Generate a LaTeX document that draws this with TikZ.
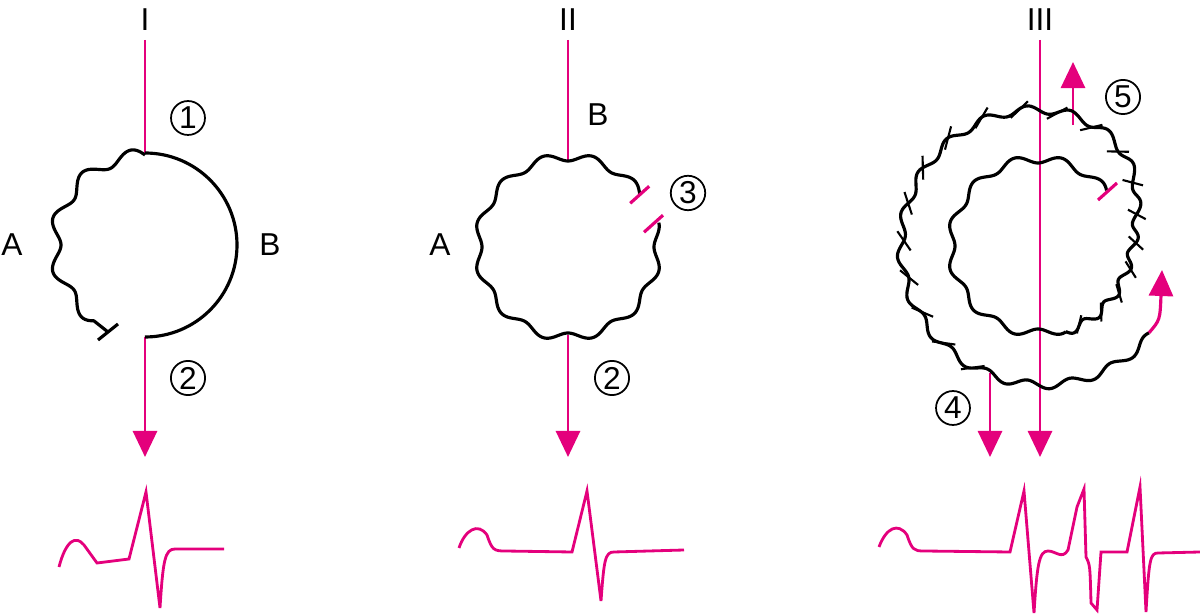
\documentclass[tikz,border=0pt]{standalone}
\usepackage{fontspec}
\setmainfont{Liberation Sans}
\usetikzlibrary{arrows.meta}
\definecolor{magenta}{RGB}{228,0,124}
\newcommand\spr[1]{(90+47/(1+exp(-((#1)-30)/14))+max(0,(#1)-250)*0.09)}
\begin{document}
\begin{tikzpicture}[
    x=0.01cm,y=-0.01cm,
    font=\fontsize{9}{10}\selectfont,
    fibre/.style={draw=black,line width=0.9pt,line join=round},
    beat/.style={draw=magenta,line width=0.8pt},
    impulse/.style={draw=magenta,line width=0.8pt,-{Triangle[width=0.24cm,length=0.26cm]}},
    block/.style={draw=magenta,line width=0.9pt},
    num/.style={circle,draw,line width=0.5pt,inner sep=0.6pt,minimum size=0.3cm},
  ]
  \useasboundingbox (0,0) rectangle (1200,616);
  % panel I
  \node (t1) at (145,20) {I};
  \coordinate (in1) at (145,40);
  \coordinate (top1) at (145,153);
  \coordinate (bot1) at (145,337);
  \coordinate (out1) at (145,457);
  \draw[beat] (in1) -- (top1);
  \draw[impulse] (bot1) -- (out1);
  \begin{scope}[shift={(145,245)}]
    \draw[fibre] (90:92) arc[start angle=90,end angle=-90,radius=92];
    \draw[fibre] plot[domain=90:236,samples=120,smooth]
      ({(90+6*sin(11*(\x-90)))*cos(\x)},{-(90+6*sin(11*(\x-90)))*sin(\x)})
      -- (-37,87) coordinate (end1);
    \draw[fibre] (end1) ++(-10,8) -- ++(20,-16);
  \end{scope}
  \node (a1) at (12,245) {A};
  \node (b1) at (270,245) {B};
  \node[num] (n1) at (188,118) {1};
  \node[num] (n2) at (188,378) {2};
  \draw[beat] (59,567) .. controls (66,540) and (76,535) .. (84,545) -- (97,563)
    -- (129,559) -- (146,492) -- (160,608) .. controls (163,560) and (165,549) .. (175,549) -- (224,549);
  % panel II
  \node (t2) at (568,20) {II};
  \coordinate (in2) at (568,40);
  \coordinate (top2) at (568,160);
  \coordinate (bot2) at (568,335);
  \coordinate (out2) at (568,457);
  \draw[beat] (in2) -- (top2);
  \draw[impulse] (bot2) -- (out2);
  \begin{scope}[shift={(568,247)}]
    \draw[fibre] plot[domain=36:375,samples=300,smooth]
      ({(90-4*cos(12*(\x-90)))*cos(\x)},{-(90-4*cos(12*(\x-90)))*sin(\x)});
    \coordinate (g1) at ({88*cos(36)},{-88*sin(36)});
    \coordinate (g2) at ({88*cos(15)},{-88*sin(15)});
  \end{scope}
  \draw[block] (g1) ++(-9,8) -- ++(19,-17);
  \draw[block] (g2) ++(-9,8) -- ++(19,-17);
  \node (a2) at (440,245) {A};
  \node (b2) at (598,115) {B};
  \node[num] (n3) at (688,193) {3};
  \node[num] (n4) at (612,378) {2};
  \draw[beat] (459,548) .. controls (465,530) and (478,522) .. (487,535) .. controls (492,550) and (494,551) .. (505,551)
    -- (572,552) -- (587,491) -- (601,601) .. controls (604,560) and (605,552) .. (614,552) -- (684,550);
  % panel III
  \node (t3) at (1040,20) {III};
  \coordinate (in3) at (1040,40);
  \coordinate (out3) at (1040,457);
  \coordinate (side3) at (990,373);
  \coordinate (sout3) at (990,457);
  \coordinate (exit3) at (1073,125);
  \coordinate (exto3) at (1073,62);
  \draw[impulse] (in3) -- (out3);
  \draw[impulse] (side3) -- (sout3);
  \draw[impulse] (exit3) -- (exto3);
  \begin{scope}[shift={(1038,246)}]
    \draw[fibre] plot[domain=39:288,samples=220,smooth]
      ({(87-4*cos(12*(\x-90)))*cos(\x)},{-(87-4*cos(12*(\x-90)))*sin(\x)});
    \draw[fibre] plot[domain=-72:322,samples=400,smooth]
      ({(\spr{\x}+4*sin(20*(\x+72)))*cos(\x)},{-(\spr{\x}+4*sin(20*(\x+72)))*sin(\x)})
      coordinate (tail3);
    \foreach \t in {-62,-46,...,250} {
      \pgfmathsetmacro\rr{\spr{\t}+4*sin(20*(\t+72))}
      \draw[fibre,line width=0.6pt] ({(\rr-7)*cos(\t+4)},{-(\rr-7)*sin(\t+4)})
        -- ({(\rr+7)*cos(\t-4)},{-(\rr+7)*sin(\t-4)});
    }
  \end{scope}
  \coordinate (tip3) at (1162,270);
  \draw[fibre,-{Triangle[width=0.24cm,length=0.26cm,fill=magenta]},magenta] (tail3)
    .. controls (1160,320) .. (tip3);
  \draw[block] (1098,200) -- (1117,183);
  \node[num] (n5) at (953,408) {4};
  \node[num] (n6) at (1123,97) {5};
  \draw[beat] (879,547) .. controls (886,528) and (898,522) .. (907,535) .. controls (912,550) and (914,551) .. (924,551)
    -- (1010,552) -- (1024,491) -- (1034,613) .. controls (1037,565) and (1039,551) .. (1048,551)
    .. controls (1056,551) and (1062,560) .. (1068,550) -- (1077,507) -- (1084,489) -- (1086,557)
    .. controls (1090,565) .. (1091,603) -- (1097,610) -- (1101,552) -- (1127,552) -- (1140,487)
    -- (1146,612) .. controls (1149,560) and (1150,553) .. (1158,553) -- (1200,552);
\end{tikzpicture}
\end{document}
